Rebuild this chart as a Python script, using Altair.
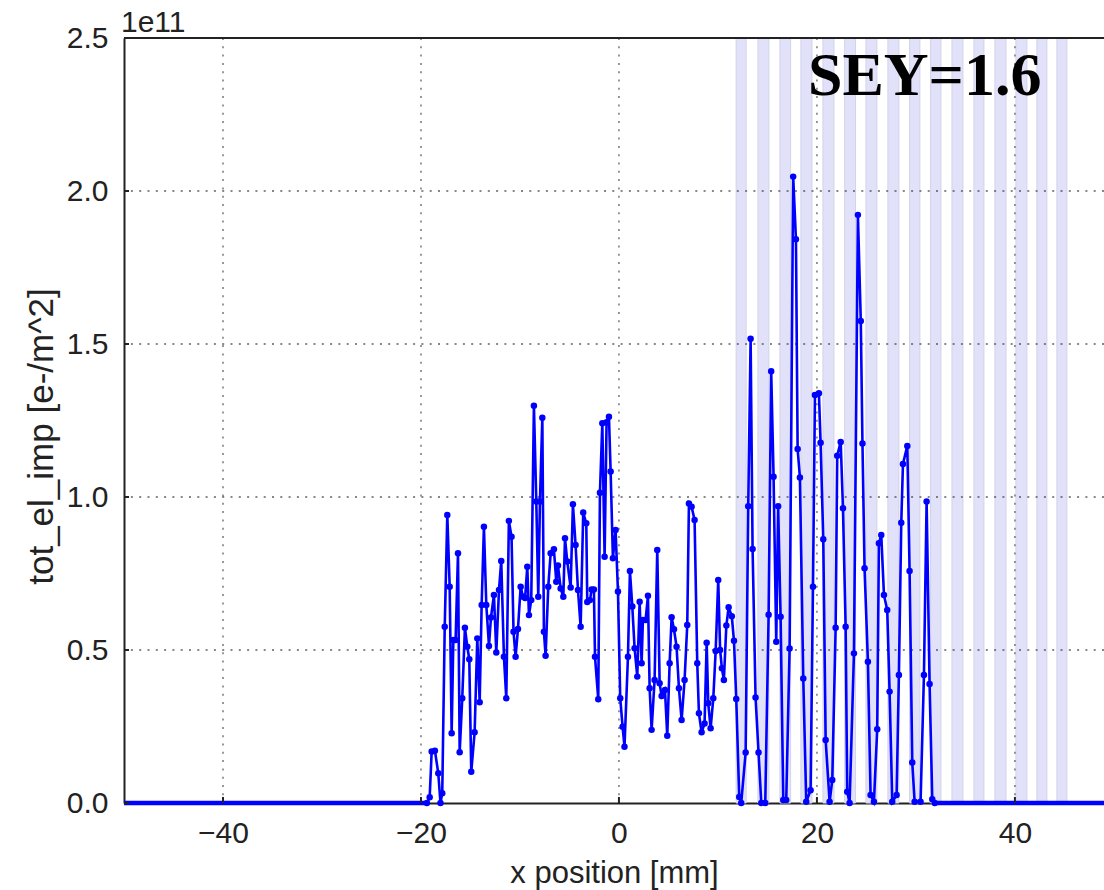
import altair as alt
import pandas as pd

# ---- data (x in mm, y in units of 1e11 e-/m^2) ----
x_mm = [-19.40, -19.12, -18.92, -18.59, -18.25, -18.03, -17.85, -17.60, -17.34, -17.10,
        -16.90, -16.73, -16.50, -16.26, -16.09, -15.83, -15.56, -15.32, -15.12, -14.92,
        -14.58, -14.31, -14.07, -13.87, -13.64, -13.40, -13.13, -12.93, -12.63, -12.39,
        -12.12, -11.89, -11.62, -11.38, -11.12, -10.85, -10.65, -10.44, -10.20, -9.93,
        -9.70, -9.48, -9.26, -9.09, -8.86, -8.59, -8.35, -8.15, -7.98, -7.74,
        -7.58, -7.41, -7.14, -6.90, -6.57, -6.33, -6.16, -5.89, -5.62, -5.45,
        -5.22, -4.88, -4.65, -4.38, -4.14, -3.87, -3.61, -3.30, -3.20, -2.93,
        -2.76, -2.53, -2.42, -2.09, -1.92, -1.68, -1.45, -1.25, -1.01, -0.84,
        -0.61, -0.34, -0.10, 0.13, 0.37, 0.56, 0.91, 1.11, 1.35, 1.58,
        1.85, 2.09, 2.29, 2.42, 2.69, 2.93, 3.10, 3.30, 3.60, 3.87,
        4.11, 4.31, 4.65, 4.88, 5.12, 5.32, 5.56, 5.82, 6.06, 6.33,
        6.63, 6.90, 7.07, 7.34, 7.64, 7.91, 8.08, 8.35, 8.65, 8.86,
        9.02, 9.26, 9.53, 9.77, 10.03, 10.22, 10.40, 10.60, 10.85, 11.08,
        11.40, 11.62, 11.85, 12.15, 12.35, 12.80, 13.06, 13.30, 13.50, 13.80,
        14.10, 14.38, 14.78, 15.12, 15.38, 15.62, 15.89, 16.08, 16.33, 16.60,
        16.90, 17.24, 17.60, 17.88, 18.05, 18.28, 18.62, 18.92, 19.36, 19.60,
        19.80, 20.20, 20.37, 20.64, 20.88, 21.28, 21.55, 21.89, 22.05, 22.40,
        22.63, 22.90, 23.06, 23.30, 23.74, 24.14, 24.43, 24.60, 24.81, 25.15,
        25.42, 25.76, 26.09, 26.26, 26.50, 26.77, 27.10, 27.34, 27.61, 28.05,
        28.28, 28.52, 28.69, 29.13, 29.36, 29.63, 29.87, 30.47, 30.81, 31.08,
        31.38, 31.65, 31.90]
y_e11 = [0.000, 0.019, 0.168, 0.171, 0.097, 0.000, 0.032, 0.576, 0.941, 0.707,
         0.228, 0.533, 0.533, 0.816, 0.166, 0.342, 0.573, 0.511, 0.470, 0.102,
         0.231, 0.538, 0.329, 0.647, 0.903, 0.647, 0.513, 0.606, 0.680, 0.492,
         0.696, 0.791, 0.478, 0.342, 0.922, 0.870, 0.560, 0.478, 0.569, 0.707,
         0.674, 0.670, 0.772, 0.614, 0.663, 1.298, 0.985, 0.674, 0.985, 1.259,
         0.560, 0.481, 0.707, 0.816, 0.829, 0.723, 0.776, 0.701, 0.674, 0.865,
         0.789, 0.704, 0.976, 0.843, 0.696, 0.576, 0.949, 0.914, 0.657, 0.663,
         0.698, 0.698, 0.478, 0.339, 1.014, 1.241, 0.805, 1.244, 1.262, 1.083,
         0.800, 0.892, 0.691, 0.342, 0.249, 0.184, 0.478, 0.758, 0.642, 0.506,
         0.413, 0.658, 0.457, 0.598, 0.598, 0.677, 0.375, 0.239, 0.402, 0.827,
         0.391, 0.350, 0.369, 0.220, 0.457, 0.607, 0.568, 0.511, 0.375, 0.271,
         0.402, 0.582, 0.979, 0.968, 0.925, 0.457, 0.293, 0.231, 0.260, 0.524,
         0.326, 0.244, 0.342, 0.497, 0.729, 0.500, 0.440, 0.402, 0.580, 0.640,
         0.610, 0.530, 0.340, 0.020, 0.000, 0.165, 0.970, 1.517, 0.830, 0.345,
         0.165, 0.000, 0.000, 0.615, 1.411, 1.066, 0.527, 0.970, 0.609, 0.010,
         0.010, 0.505, 2.047, 1.842, 1.157, 1.064, 0.407, 0.004, 0.042, 0.707,
         1.333, 1.339, 1.177, 0.862, 0.206, 0.004, 0.075, 0.573, 1.135, 1.180,
         0.963, 0.576, 0.037, 0.000, 0.489, 1.922, 1.575, 1.175, 0.767, 0.462,
         0.026, 0.004, 0.241, 0.849, 0.876, 0.680, 0.631, 0.364, 0.004, 0.026,
         0.418, 0.916, 1.108, 1.167, 0.758, 0.132, 0.004, 0.004, 0.418, 0.985,
         0.389, 0.012, 0.000]

zero_start = [-50.0, 31.9]
zero_end = [-19.4, 49.0]

band_start = [11.84, 14.04, 16.26, 18.38, 20.61, 22.80, 24.95, 27.17,
              29.36, 31.48, 33.64, 35.86, 37.98, 40.10, 42.22, 44.24]
band_end = [12.85, 15.15, 17.34, 19.50, 21.72, 23.90, 26.06, 28.28,
            30.40, 32.53, 34.75, 36.87, 39.10, 41.21, 43.23, 45.25]

x_ticks = [-40, -20, 0, 20, 40]
y_ticks = [0.0, 0.5, 1.0, 1.5, 2.0, 2.5]
y_grid = [0.5, 1.0, 1.5, 2.0]
offset_label = ["1e11"]
annotation = ["SEY=1.6"]

X_TITLE = "x position [mm]"
Y_TITLE = "tot_el_imp [e-/m^2]"

# ---- tables ----
series = pd.DataFrame({"x": x_mm, "y": y_e11})
zeros = pd.DataFrame({"x0": zero_start, "x1": zero_end, "y": [0.0] * len(zero_start)})
bands = pd.DataFrame({"b0": band_start, "b1": band_end})
xt = pd.DataFrame({"v": x_ticks})
yt = pd.DataFrame({"v": y_ticks})
yg = pd.DataFrame({"v": y_grid})
off = pd.DataFrame({"t": offset_label})
ann = pd.DataFrame({"t": annotation})

W, H = 980, 765
FONT = "Liberation Sans"
BLUE = "#0000ff"

xs = alt.Scale(domain=[-50, 49], nice=False, zero=False)
ys = alt.Scale(domain=[0, 2.5], nice=False, zero=False)

x_axis = alt.Axis(values=x_ticks, format="d", title=X_TITLE, grid=False, ticks=False,
                  labelFontSize=30, labelFont=FONT, labelColor="#222", labelPadding=15,
                  titleFontSize=31, titleFont=FONT, titleFontWeight="normal", titleColor="#222",
                  titlePadding=10, domainColor="#222", domainWidth=2)
y_axis = alt.Axis(values=y_ticks, format=".1f", title=Y_TITLE, grid=False, ticks=False,
                  labelFontSize=30, labelFont=FONT, labelColor="#222", labelPadding=16,
                  titleFontSize=35, titleFont=FONT, titleFontWeight="normal", titleColor="#222",
                  titleX=-83, titleY=398, titleBaseline="middle", titleAlign="center",
                  domainColor="#222", domainWidth=2)

band_layer = alt.Chart(bands).mark_rect(fill="#e1e1f9", stroke="#d2d2ea", strokeWidth=1).encode(
    x=alt.X("b0:Q", scale=xs, axis=x_axis), x2="b1:Q",
    y=alt.value(0), y2=alt.value(H))

xgrid = alt.Chart(xt).mark_rule(color="#555", strokeWidth=1.5, strokeDash=[2, 6.3], opacity=0.8).encode(
    x=alt.X("v:Q", scale=xs))
ygrid = alt.Chart(yg).mark_rule(color="#444", strokeWidth=1.6, strokeDash=[2, 6.3], opacity=0.85).encode(
    y=alt.Y("v:Q", scale=ys, axis=y_axis))

zero_layer = alt.Chart(zeros).mark_rule(color=BLUE, strokeWidth=4.5).encode(
    x=alt.X("x0:Q", scale=xs), x2="x1:Q", y=alt.Y("y:Q", scale=ys))

line = alt.Chart(series).mark_line(color=BLUE, strokeWidth=2.6).encode(
    x=alt.X("x:Q", scale=xs), y=alt.Y("y:Q", scale=ys))
pts = alt.Chart(series).mark_circle(color=BLUE, size=42, opacity=1).encode(
    x=alt.X("x:Q", scale=xs), y=alt.Y("y:Q", scale=ys))

top_border = alt.Chart(off).mark_rule(color="#222", strokeWidth=2).encode(
    x=alt.value(0), x2=alt.value(W), y=alt.value(0))

yticks_layer = alt.Chart(yt).mark_rule(color="#222", strokeWidth=2).encode(
    y=alt.Y("v:Q", scale=ys), x=alt.value(0), x2=alt.value(5))
xticks_layer = alt.Chart(xt).mark_rule(color="#222", strokeWidth=2).encode(
    x=alt.X("v:Q", scale=xs), y=alt.value(H), y2=alt.value(H - 6))

off_text = alt.Chart(off).mark_text(font=FONT, fontSize=30, color="#222", align="left",
                                    baseline="alphabetic").encode(
    text="t:N", x=alt.value(-3), y=alt.value(-6))
ann_text = alt.Chart(ann).mark_text(font="Liberation Serif", fontSize=62, fontWeight="bold",
                                    color="#000", align="left", baseline="alphabetic").encode(
    text="t:N", x=alt.value(684), y=alt.value(57))

chart = alt.layer(band_layer, xgrid, ygrid, line, zero_layer, pts, top_border,
                  yticks_layer, xticks_layer, off_text, ann_text).properties(
    width=W, height=H,
    padding={"left": 124, "top": 38, "right": 0, "bottom": 87},
    autosize=alt.AutoSizeParams(type="none"),
    background="white",
).configure_view(stroke="transparent")

chart.save("out.html", embed_options={"renderer": "svg", "actions": False})
